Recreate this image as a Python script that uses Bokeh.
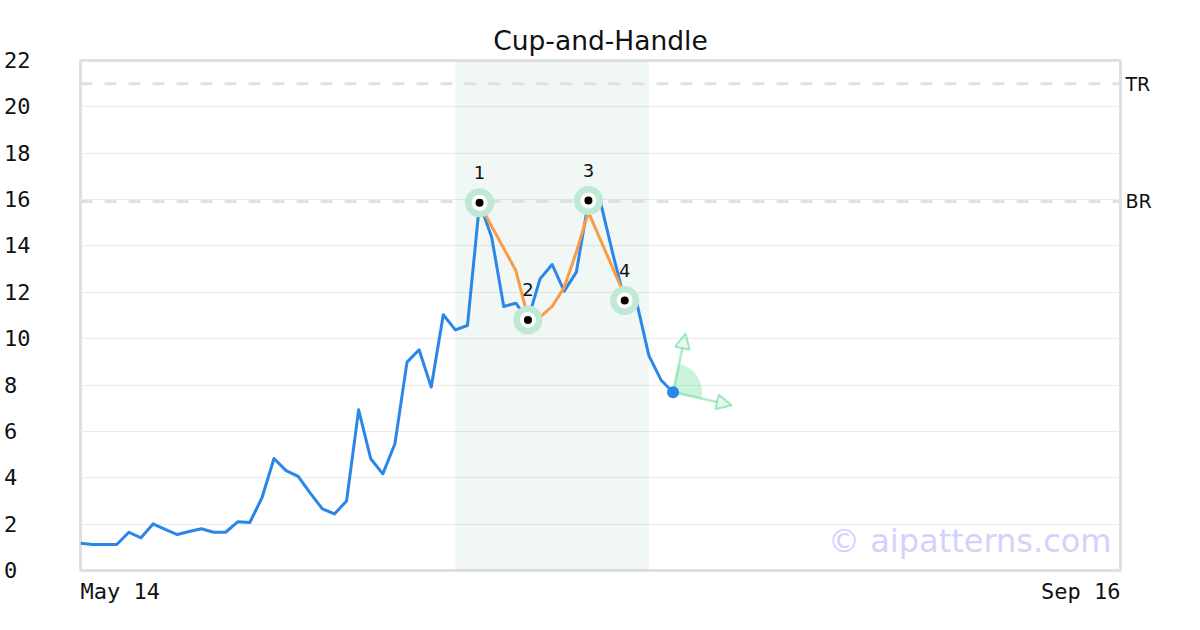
import math
from bokeh.plotting import figure
from bokeh.models import (Range1d, Label, Span, BoxAnnotation, FixedTicker,
                          LinearAxis, Arrow, NormalHead)
from bokeh.core.properties import value
from bokeh.embed import file_html
from bokeh.resources import INLINE

# ---------------- data ----------------
title_text = "Cup-and-Handle"
x_tick_labels = ["May 14", "Sep 16"]
x_tick_index = [0, 86]
y_ticks = [0, 2, 4, 6, 8, 10, 12, 14, 16, 18, 20, 22]

close = [1.18, 1.12, 1.12, 1.12, 1.65, 1.41, 2.01, 1.77, 1.55, 1.68,
         1.80, 1.65, 1.65, 2.10, 2.07, 3.13, 4.83, 4.31, 4.06, 3.34,
         2.66, 2.44, 3.00, 6.93, 4.82, 4.17, 5.47, 8.99, 9.52, 7.91,
         11.03, 10.38, 10.57, 15.86, 14.38, 11.39, 11.53, 10.81, 12.58, 13.20,
         12.05, 12.87, 15.90, 15.89, 13.70, 11.65, 11.55, 9.27, 8.22, 7.69]
day_index = list(range(len(close)))

fit_x = [33, 36, 37, 38, 39, 40, 41, 42, 45]
fit_y = [15.80, 12.94, 10.93, 10.93, 11.39, 12.22, 13.73, 15.46, 11.86]

pattern_x = [33, 37, 42, 45]
pattern_y = [15.86, 10.81, 15.96, 11.65]
pattern_labels = ["1", "2", "3", "4"]

zone_start, zone_end = 31, 47
level_values = [21.0, 15.92]
level_names = ["TR", "BR"]
watermark = "\u00a9 aipatterns.com"

# ---------------- style ----------------
W, H = 1200, 630
ML, MR, MT, MB = 80, 80, 60, 60
X0, X1 = 0, 86
Y0, Y1 = 0, 22
BLUE = "#2a86e8"
ORANGE = "#f89c45"
GREEN = "#2ecc71"
MONO = "DejaVu Sans Mono"
SANS = "DejaVu Sans"
NB = "\u00a0"

p = figure(width=W, height=H, x_range=Range1d(X0, X1), y_range=Range1d(Y0, Y1),
           output_backend="svg", toolbar_location=None,
           min_border_left=ML, min_border_right=MR,
           min_border_top=MT, min_border_bottom=MB,
           title=title_text)
p.title.text_font = SANS
p.title.text_font_size = "26.5px"
p.title.text_font_style = "normal"
p.title.text_color = "#111111"
p.title.align = "center"
p.title.standoff = 10
p.outline_line_color = "#e0e0e0"
p.outline_line_width = 3
p.background_fill_color = "white"
p.border_fill_color = "white"

# axes: only labels visible
p.xaxis.ticker = FixedTicker(ticks=x_tick_index)
# labels sit inside the plot edges: "May 14" starts at the left edge, "Sep 16" ends at the right edge
pad = NB * len(x_tick_labels[0])
p.xaxis.major_label_overrides = {x_tick_index[0]: pad + x_tick_labels[0],
                                 x_tick_index[1]: x_tick_labels[1] + pad}
p.yaxis.ticker = FixedTicker(ticks=y_ticks)
# left-aligned look for y labels (monospace): pad short labels on the right
maxlen = max(len(str(t)) for t in y_ticks)
p.yaxis.major_label_overrides = {t: str(t) + NB * (maxlen - len(str(t))) for t in y_ticks}

right_axis = LinearAxis(ticker=FixedTicker(ticks=level_values),
                        major_label_overrides=dict(zip(level_values, level_names)))
p.add_layout(right_axis, "right")

for ax in [p.xaxis[0], p.yaxis[0]]:
    ax.major_label_text_font = MONO
    ax.major_label_text_font_size = "22px"
for ax in [p.xaxis[0], p.yaxis[0], right_axis]:
    ax.axis_line_color = None
    ax.major_tick_line_color = None
    ax.minor_tick_line_color = None
    ax.major_tick_out = 0
    ax.major_tick_in = 0
    ax.major_label_text_color = "#111111"
p.yaxis.major_label_standoff = 50
p.xaxis.major_label_standoff = 8
right_axis.major_label_standoff = 5
right_axis.major_label_text_font = SANS
right_axis.major_label_text_font_size = "19px"

p.xgrid.visible = False
p.ygrid.grid_line_color = "#ebebeb"
p.ygrid.grid_line_width = 1

p.add_layout(BoxAnnotation(left=zone_start, right=zone_end, fill_color="#3a9d7a",
                           fill_alpha=0.08, line_color=None, level="underlay"))

for lv in level_values:
    p.add_layout(Span(location=lv, dimension="width", line_color="#e0e0e0",
                      line_width=3, line_dash="12 12", level="underlay"))

# price line and fitted pattern line
p.line(day_index, close, line_color=BLUE, line_width=3, line_join="round")
p.line(fit_x, fit_y, line_color=ORANGE, line_width=3, line_join="round")

# pattern points
p.scatter(pattern_x, pattern_y, size=29, fill_color="#bfe9d5", line_color=None)
p.scatter(pattern_x, pattern_y, size=16, fill_color="white", line_color=None)
p.scatter(pattern_x, pattern_y, size=8, fill_color="black", line_color=None)
p.text(pattern_x, pattern_y, text=pattern_labels, y_offset=-30,
       text_align="center", text_baseline="middle",
       text_font=value(SANS), text_font_size="18px", text_color="#111111")

# direction arrows from last point
px_x = (W - ML - MR) / (X1 - X0)
px_y = (H - MT - MB) / (Y1 - Y0)
lx, ly = day_index[-1], close[-1]
ARROW_LEN = 60
angles = [78.0, -12.5]
p.wedge(x=[lx], y=[ly], radius=29, radius_units="screen",
        start_angle=math.radians(angles[1]), end_angle=math.radians(angles[0]),
        fill_color=GREEN, fill_alpha=0.25, line_color=None)
for a in angles:
    ex = lx + ARROW_LEN * math.cos(math.radians(a)) / px_x
    ey = ly + ARROW_LEN * math.sin(math.radians(a)) / px_y
    p.add_layout(Arrow(x_start=lx, y_start=ly, x_end=ex, y_end=ey,
                       line_color=GREEN, line_alpha=0.38, line_width=2.5,
                       end=NormalHead(size=15, fill_color=GREEN, fill_alpha=0.12,
                                      line_color=GREEN, line_alpha=0.42, line_width=2),
                       level="underlay"))
p.scatter([lx], [ly], size=12, fill_color=BLUE, line_color=None)

# watermark
p.add_layout(Label(x=X1, y=Y0, x_offset=-9, y_offset=30, text=watermark,
                   text_align="right", text_baseline="alphabetic",
                   text_font=SANS, text_font_size="32px", text_color="#d2d2fb"))

open("out.html", "w").write(file_html(p, INLINE))
